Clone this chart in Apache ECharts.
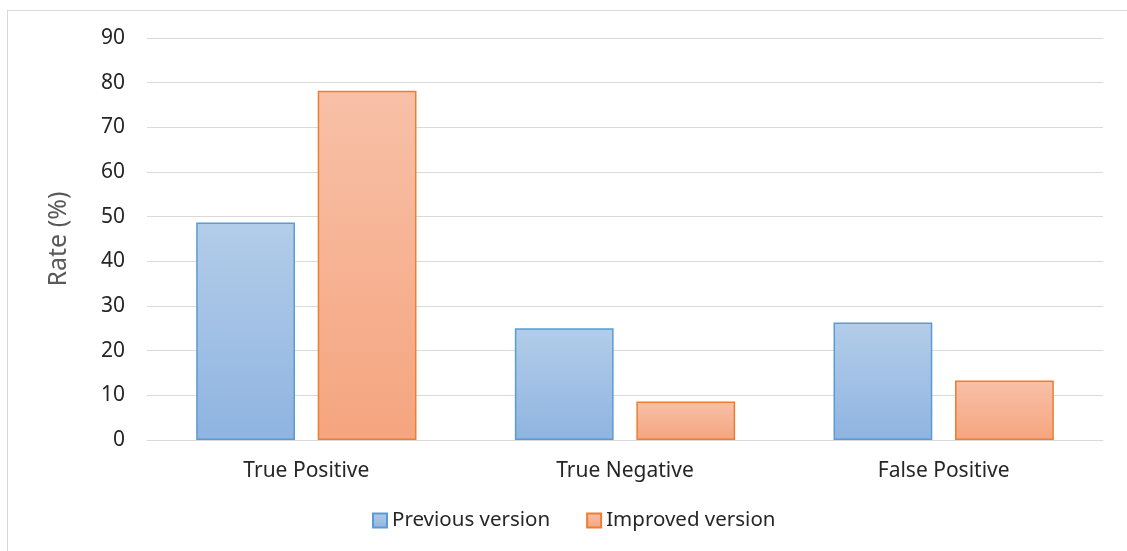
<!DOCTYPE html>
<html>
<head>
<meta charset="utf-8">
<script src="https://cdn.jsdelivr.net/npm/echarts@6/dist/echarts.min.js"></script>
<style>
  html, body { margin: 0; padding: 0; background: #fff; }
  #frame { position: absolute; left: 7px; top: 10px; width: 1130px; height: 560px; border: 1px solid #d9d9d9; }
  #myCharts { position: absolute; left: 0; top: 0; width: 1127px; height: 551px; }
</style>
</head>
<body>
<div id="frame"></div>
<div id="myCharts"></div>
<script>
// 数据
var categories = ['True Positive', 'True Negative', 'False Positive'];
var previousVals = [48.7, 25.0, 26.3];
var improvedVals = [78.2, 8.6, 13.3];
var yTicks = { min: 0, max: 90, interval: 10 };

var chart = echarts.init(document.getElementById('myCharts'));

function grad(top, bottom) {
    return new echarts.graphic.LinearGradient(0, 0, 0, 1, [
        { offset: 0, color: top },
        { offset: 1, color: bottom }
    ]);
}

var font = 'Noto Sans';

chart.setOption({
    animation: false,
    textStyle: { fontFamily: font },
    grid: {
        top: 38,
        left: 147,
        right: 24,
        bottom: 111
    },
    legend: {
        top: 505,
        left: 367,
        icon: 'rect',
        itemWidth: 14,
        itemHeight: 14,
        itemGap: 36,
        textStyle: { fontSize: 20.5, color: '#262626', fontFamily: font },
        data: ['Previous version', 'Improved version']
    },
    xAxis: [{
        type: 'category',
        data: categories,
        axisLine: { lineStyle: { color: '#d9d9d9', width: 1 } },
        axisTick: { show: false },
        axisLabel: { fontSize: 21, color: '#262626', margin: 21 }
    }],
    yAxis: [{
        type: 'value',
        min: yTicks.min,
        max: yTicks.max,
        interval: yTicks.interval,
        name: 'Rate (%)',
        nameLocation: 'middle',
        nameGap: 76,
        nameTextStyle: { fontSize: 25, color: '#595959' },
        axisLine: { show: false },
        axisTick: { show: false },
        axisLabel: { fontSize: 21, color: '#262626', margin: 22 },
        splitLine: { lineStyle: { color: '#d9d9d9', width: 1 } }
    }],
    series: [
        {
            name: 'Previous version',
            type: 'bar',
            barWidth: '31%',
            barGap: '23%',
            itemStyle: {
                color: grad('#b3cde9', '#8fb4e1'),
                borderColor: '#5b9bd5',
                borderWidth: 1.5
            },
            data: previousVals
        },
        {
            name: 'Improved version',
            type: 'bar',
            barWidth: '31%',
            itemStyle: {
                color: grad('#f8c0a7', '#f5a57f'),
                borderColor: '#ed7d31',
                borderWidth: 1.5
            },
            data: improvedVals
        }
    ]
});
</script>
</body>
</html>
